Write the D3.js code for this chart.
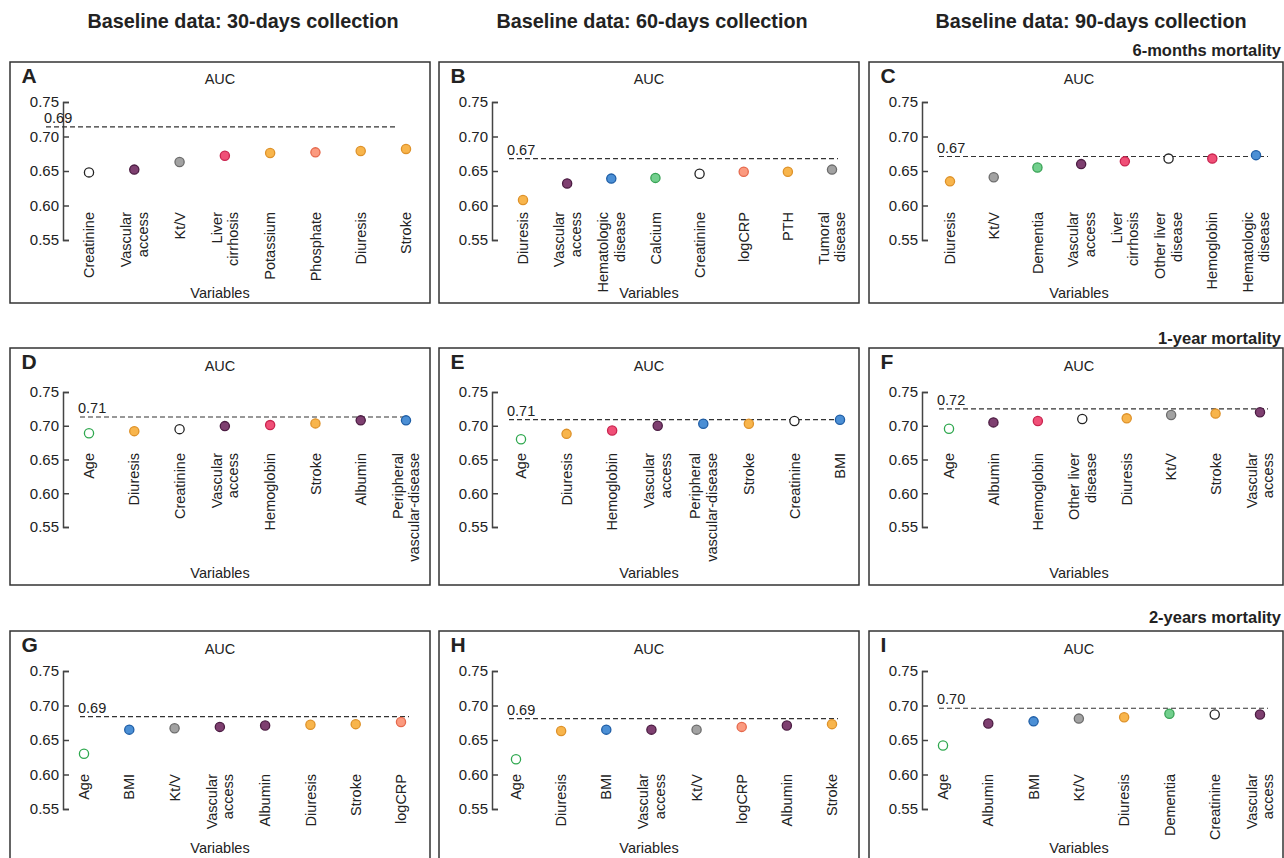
<!DOCTYPE html>
<html>
<head>
<meta charset="utf-8">
<script src="https://cdn.jsdelivr.net/npm/d3@7"></script>
<style>
  body { margin: 0; background: #fff; }
  svg { display: block; font-family: "Liberation Sans", Arial, Helvetica, sans-serif; }
</style>
</head>
<body>
<svg id="chart"></svg>
<script>
// ---- data ----
let colHeaders = ['Baseline data: 30-days collection', 'Baseline data: 60-days collection', 'Baseline data: 90-days collection']
let rowHeaders = ['6-months mortality', '1-year mortality', '2-years mortality']
let panelIds = ['A', 'B', 'C', 'D', 'E', 'F', 'G', 'H', 'I']
let yTicks = [0.55, 0.60, 0.65, 0.70, 0.75]

let varsA = ['Creatinine', 'Vascular\naccess', 'Kt/V', 'Liver\ncirrhosis', 'Potassium', 'Phosphate', 'Diuresis', 'Stroke']
let aucA = [0.648, 0.652, 0.663, 0.672, 0.676, 0.677, 0.679, 0.682]
let varsB = ['Diuresis', 'Vascular\naccess', 'Hematologic\ndisease', 'Calcium', 'Creatinine', 'logCRP', 'PTH', 'Tumoral\ndisease']
let aucB = [0.608, 0.632, 0.639, 0.640, 0.646, 0.649, 0.649, 0.652]
let varsC = ['Diuresis', 'Kt/V', 'Dementia', 'Vascular\naccess', 'Liver\ncirrhosis', 'Other liver\ndisease', 'Hemoglobin', 'Hematologic\ndisease']
let aucC = [0.635, 0.641, 0.655, 0.660, 0.664, 0.668, 0.668, 0.673]

let varsD = ['Age', 'Diuresis', 'Creatinine', 'Vascular\naccess', 'Hemoglobin', 'Stroke', 'Albumin', 'Peripheral\nvascular-disease']
let aucD = [0.689, 0.692, 0.695, 0.6995, 0.701, 0.7035, 0.708, 0.708]
let varsE = ['Age', 'Diuresis', 'Hemoglobin', 'Vascular\naccess', 'Peripheral\nvascular-disease', 'Stroke', 'Creatinine', 'BMI']
let aucE = [0.680, 0.688, 0.693, 0.700, 0.703, 0.703, 0.707, 0.709]
let varsF = ['Age', 'Albumin', 'Hemoglobin', 'Other liver\ndisease', 'Diuresis', 'Kt/V', 'Stroke', 'Vascular\naccess']
let aucF = [0.6955, 0.705, 0.707, 0.710, 0.711, 0.716, 0.718, 0.720]

let varsG = ['Age', 'BMI', 'Kt/V', 'Vascular\naccess', 'Albumin', 'Diuresis', 'Stroke', 'logCRP']
let aucG = [0.630, 0.665, 0.667, 0.669, 0.671, 0.672, 0.673, 0.676]
let varsH = ['Age', 'Diuresis', 'BMI', 'Vascular\naccess', 'Kt/V', 'logCRP', 'Albumin', 'Stroke']
let aucH = [0.622, 0.663, 0.665, 0.665, 0.665, 0.669, 0.671, 0.673]
let varsI = ['Age', 'Albumin', 'BMI', 'Kt/V', 'Diuresis', 'Dementia', 'Creatinine', 'Vascular\naccess']
let aucI = [0.642, 0.674, 0.677, 0.681, 0.683, 0.688, 0.687, 0.687]

// dashed reference line: where it is drawn, and the number printed on it
let refValues = [0.714, 0.668, 0.671, 0.713, 0.709, 0.725, 0.684, 0.681, 0.696]
let refLabels = ['0.69', '0.67', '0.67', '0.71', '0.71', '0.72', '0.69', '0.69', '0.70']

let allVars = [varsA, varsB, varsC, varsD, varsE, varsF, varsG, varsH, varsI]
let allAuc = [aucA, aucB, aucC, aucD, aucE, aucF, aucG, aucH, aucI]

// variable -> marker style
let styleKey = d3.scaleOrdinal()
  .domain(['Diuresis', 'Stroke', 'Potassium', 'PTH',
           'Vascular access', 'Albumin',
           'Kt/V', 'Tumoral disease',
           'Liver cirrhosis', 'Hemoglobin',
           'Phosphate', 'logCRP',
           'Hematologic disease', 'BMI', 'Peripheral vascular-disease',
           'Calcium', 'Dementia',
           'Creatinine', 'Other liver disease',
           'Age'])
  .range(['orange', 'orange', 'orange', 'orange',
          'purple', 'purple',
          'gray', 'gray',
          'red', 'red',
          'salmon', 'salmon',
          'blue', 'blue', 'blue',
          'green', 'green',
          'open', 'open',
          'openGreen'])

let markerFill = { orange: '#f8b54c', purple: '#7e3f70', gray: '#a2a2a2', red: '#f04f77', salmon: '#fb9a7f',
                   blue: '#4b8fd5', green: '#72cf8d', open: '#ffffff', openGreen: '#ffffff' }
let markerStroke = { orange: '#de922a', purple: '#4b1c42', gray: '#6c6c6c', red: '#c9244f', salmon: '#e5694d',
                     blue: '#1f5ea6', green: '#38a255', open: '#222222', openGreen: '#2fa84f' }

// ---- layout ----
let width = 1284
let height = 858
let colX = [10, 439, 869]
let colW = [420, 420, 414]
let rowY = [62, 348, 631]
let rowH = [241, 237, 241]
let yTopOff = [40, 44, 40]
let yBotOff = [178, 179, 178]
let labelTopOff = [150, 105, 143]
let variablesOff = [236, 230, 222]
let aucOff = [22, 23, 23]
let headerX = [243, 652, 1091]
let rowHeaderY = [56, 344, 623]
// first/last category position, measured from the y axis
let xStartOff = [26, 31, 28, 26, 29, 27, 21, 24, 21]
let xEndOff = [343, 340, 334, 343, 348, 338, 338, 340, 338]

let svg = d3.select('#chart').attr('width', width).attr('height', height)

svg.selectAll('text.colhead')
  .data(colHeaders)
  .enter()
  .append('text')
  .attr('class', 'colhead')
  .attr('x', (d, i) => headerX[i])
  .attr('y', 28)
  .attr('text-anchor', 'middle')
  .attr('font-size', '19.8px')
  .attr('font-weight', 'bold')
  .attr('fill', '#222')
  .text(d => d)

svg.selectAll('text.rowhead')
  .data(rowHeaders)
  .enter()
  .append('text')
  .attr('class', 'rowhead')
  .attr('x', 1281)
  .attr('y', (d, i) => rowHeaderY[i])
  .attr('text-anchor', 'end')
  .attr('font-size', '16.5px')
  .attr('font-weight', 'bold')
  .attr('fill', '#222')
  .text(d => d)

let drawPanel = (p) => {
  let col = p % 3
  let row = Math.floor(p / 3)
  let bx = colX[col]
  let by = rowY[row]
  let ax = bx + 53
  let vars = allVars[p]
  let auc = allAuc[p]

  let g = svg.append('g')

  g.append('rect')
    .attr('x', bx).attr('y', by)
    .attr('width', colW[col]).attr('height', rowH[row])
    .attr('fill', 'none')
    .attr('stroke', '#333')
    .attr('stroke-width', 1.5)

  g.append('text')
    .attr('x', bx + 11.5)
    .attr('y', by + 21)
    .attr('font-size', '21px')
    .attr('font-weight', 'bold')
    .attr('fill', '#222')
    .text(panelIds[p])

  g.append('text')
    .attr('x', bx + 210)
    .attr('y', by + aucOff[row])
    .attr('text-anchor', 'middle')
    .attr('font-size', '14.5px')
    .attr('fill', '#222')
    .text('AUC')

  g.append('text')
    .attr('x', bx + 210)
    .attr('y', by + variablesOff[row])
    .attr('text-anchor', 'middle')
    .attr('font-size', '14.5px')
    .attr('fill', '#222')
    .text('Variables')

  let yScale = d3.scaleLinear()
    .domain([0.55, 0.75])
    .range([by + yBotOff[row], by + yTopOff[row]])

  let xScale = d3.scalePoint()
    .domain(d3.range(vars.length))
    .range([ax + xStartOff[p], ax + xEndOff[p]])

  let yAxis = d3.axisLeft(yScale)
    .tickValues(yTicks)
    .tickFormat(d3.format('.2f'))
    .tickSize(-6)
    .tickPadding(4)

  let axisG = g.append('g')
    .attr('transform', `translate(${ax},0)`)
    .call(yAxis)
  axisG.select('.domain').attr('stroke', '#444').attr('stroke-width', 1.5)
  axisG.selectAll('.tick line').attr('stroke', '#444').attr('stroke-width', 1.5)
  axisG.selectAll('.tick text')
    .attr('font-size', '15px')
    .attr('font-family', '"Liberation Sans", Arial, sans-serif')
    .attr('fill', '#222')

  // dashed reference line (panel A is drawn shifted in the figure)
  let x0 = p === 0 ? ax - 17 : ax + 17
  let x1 = p === 0 ? ax + 332 : ax + 346
  let yRef = yScale(refValues[p])
  g.append('line')
    .attr('x1', x0).attr('x2', x1)
    .attr('y1', yRef).attr('y2', yRef)
    .attr('stroke', '#333')
    .attr('stroke-width', 1.2)
    .attr('stroke-dasharray', '5,3')
  g.append('text')
    .attr('x', x0 - 2)
    .attr('y', yRef - 4)
    .attr('font-size', '14.5px')
    .attr('fill', '#222')
    .text(refLabels[p])

  // rotated variable names
  let labels = g.selectAll('g.xlab')
    .data(vars)
    .enter()
    .append('g')
    .attr('class', 'xlab')
    .attr('transform', (d, i) => `translate(${xScale(i)},${by + labelTopOff[row]}) rotate(-90)`)
  labels.append('text')
    .attr('text-anchor', 'end')
    .attr('font-size', '14.5px')
    .attr('fill', '#222')
    .each(function (d) {
      let lines = d.split('\n')
      let t = d3.select(this)
      lines.forEach((ln, k) => {
        let off = (k - (lines.length - 1) / 2) * 1.15 + 0.35
        t.append('tspan').attr('x', 0).attr('y', off + 'em').text(ln)
      })
    })

  g.selectAll('circle')
    .data(auc)
    .enter()
    .append('circle')
    .attr('cx', (d, i) => xScale(i))
    .attr('cy', d => yScale(d))
    .attr('r', 4.6)
    .attr('fill', (d, i) => markerFill[styleKey(vars[i].replace('\n', ' '))])
    .attr('stroke', (d, i) => markerStroke[styleKey(vars[i].replace('\n', ' '))])
    .attr('stroke-width', 1.3)
}

panelIds.forEach((id, p) => drawPanel(p))
</script>
</body>
</html>
